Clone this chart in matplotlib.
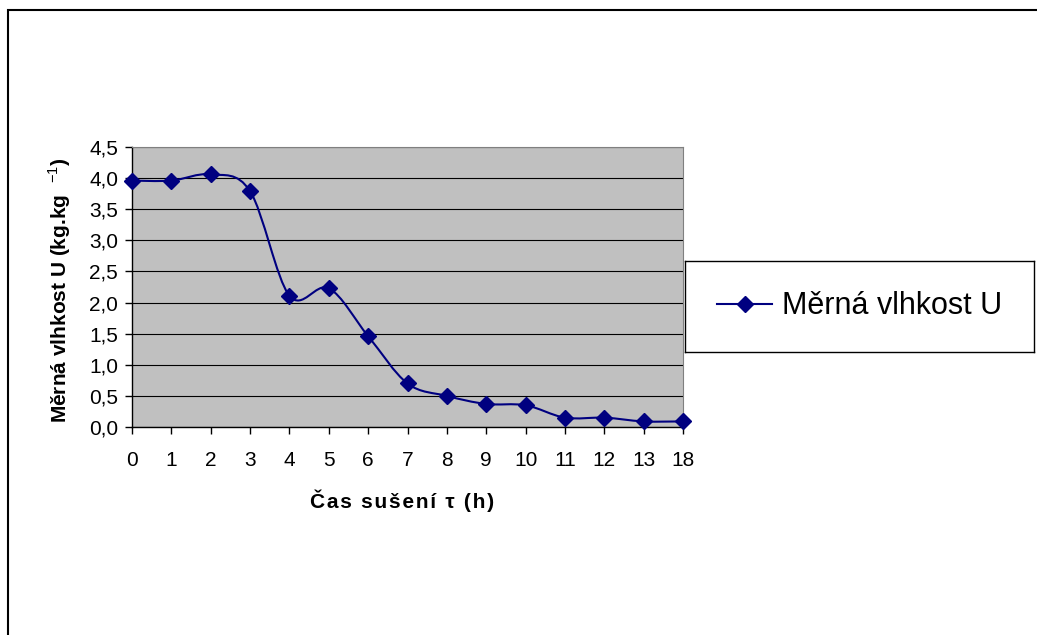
import matplotlib
matplotlib.use("Agg")
import matplotlib.pyplot as plt
from matplotlib.path import Path
from matplotlib.patches import PathPatch, Rectangle
from matplotlib.lines import Line2D
from matplotlib.ticker import FuncFormatter, MultipleLocator

# data
time_labels = ["0", "1", "2", "3", "4", "5", "6", "7", "8", "9", "10", "11", "12", "13", "18"]
moisture = [3.96, 3.96, 4.06, 3.79, 2.11, 2.23, 1.46, 0.70, 0.50, 0.37, 0.35, 0.15, 0.15, 0.09, 0.09]
series_name = "Měrná vlhkost U"

plt.rcParams['font.family'] = ['Liberation Sans', 'DejaVu Sans']
plt.rcParams['mathtext.fontset'] = 'custom'
plt.rcParams['mathtext.rm'] = 'Liberation Sans'
plt.rcParams['mathtext.bf'] = 'Liberation Sans:bold'

W, H = 1037, 635
fig = plt.figure(figsize=(W / 100, H / 100), dpi=100)

# outer chart border (clipped at right / bottom like the original)
fig.add_artist(Rectangle((8 / W, -0.1), 1.2, 1 - 10 / H + 0.1, transform=fig.transFigure,
                         fill=False, edgecolor='black', linewidth=1.5))

def px(l, t, r, b):
    return [l / W, 1 - b / H, (r - l) / W, (b - t) / H]

ax = fig.add_axes(px(132, 147, 683, 427))
ax.set_facecolor('#C0C0C0')
xs = list(range(len(moisture)))

# smoothed line like the spreadsheet "smoothed line" option (cubic bezier through points)
pts = list(zip(xs, moisture))
verts = [pts[0]]
codes = [Path.MOVETO]
for i in range(len(pts) - 1):
    p0 = pts[max(i - 1, 0)]
    p1 = pts[i]
    p2 = pts[i + 1]
    p3 = pts[min(i + 2, len(pts) - 1)]
    c1 = (p1[0] + (p2[0] - p0[0]) / 6, p1[1] + (p2[1] - p0[1]) / 6)
    c2 = (p2[0] - (p3[0] - p1[0]) / 6, p2[1] - (p3[1] - p1[1]) / 6)
    verts += [c1, c2, p2]
    codes += [Path.CURVE4] * 3
ax.add_patch(PathPatch(Path(verts, codes), fill=False, edgecolor='#000080', linewidth=1.5, zorder=3))
ax.plot(xs, moisture, linestyle='none', marker='D', markersize=8.5, color='#000080',
        clip_on=False, zorder=4)

ax.set_xlim(0, len(moisture) - 1)
ax.set_ylim(0, 4.5)
ax.set_xticks(xs)
ax.set_xticklabels(time_labels)
ax.yaxis.set_major_locator(MultipleLocator(0.5))
ax.yaxis.set_major_formatter(FuncFormatter(lambda v, p: f"{v:.1f}".replace('.', ',')))
ax.grid(axis='y', color='black', linewidth=0.8)
ax.set_axisbelow(True)
ax.tick_params(axis='both', direction='out', length=5, width=1, labelsize=15, colors='black')
ax.tick_params(axis='x', pad=12.5)
ax.tick_params(axis='y', pad=5)
for s in ['top', 'right']:
    ax.spines[s].set_color('#808080')
for s in ['left', 'bottom']:
    ax.spines[s].set_color('black')
    ax.spines[s].set_linewidth(1)

# axis titles
fig.text(67 / W, 1 - 290 / H, r"Měrná vlhkost U (kg.kg  $^{-1}$)", fontsize=15, fontweight='bold',
         rotation=90, rotation_mode='anchor', ha='center', va='baseline')
xtitle = "\u200a".join("Čas sušení τ (h)")
fig.text(402 / W, 1 - 508 / H, xtitle, fontsize=15, fontweight='bold', ha='center', va='baseline')

# legend box
lax = fig.add_axes(px(685, 261, 1034, 352))
lax.set_xticks([])
lax.set_yticks([])
for s in lax.spines.values():
    s.set_color('black')
    s.set_linewidth(1)
handle = Line2D([], [], color='#000080', linewidth=1.5, marker='D', markersize=8.5)
lax.legend([handle], [series_name], loc='center', frameon=False, fontsize=22,
           handlelength=1.8, handletextpad=0.3)

fig.savefig("out.png", dpi=100)
